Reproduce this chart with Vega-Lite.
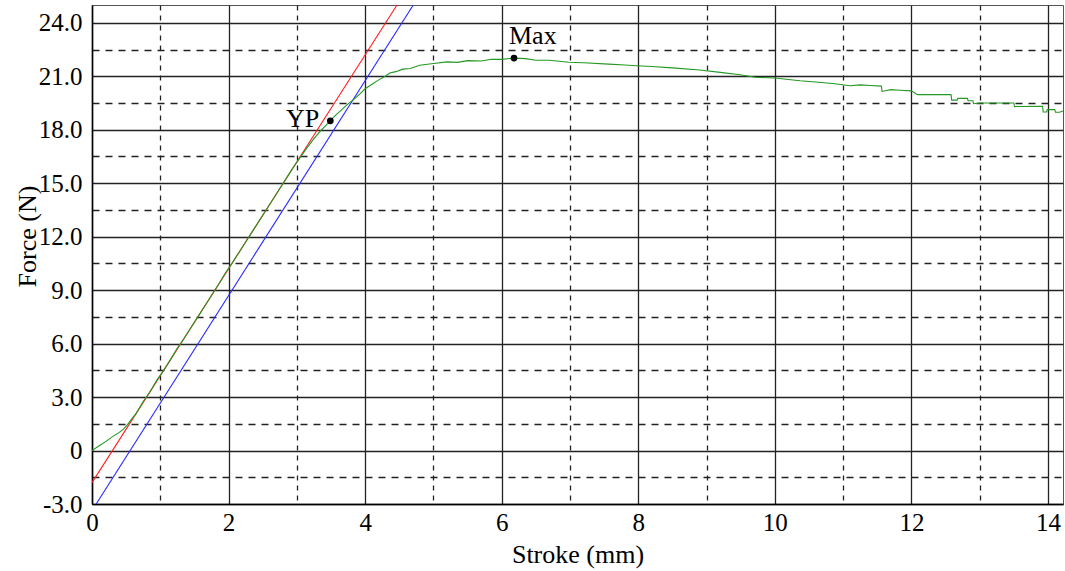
{
  "$schema": "https://vega.github.io/schema/vega-lite/v6.json",
  "width": 971,
  "height": 499,
  "autosize": {"type": "none"},
  "padding": {"left": 92, "top": 5, "right": 2, "bottom": 67},
  "background": "white",
  "config": {
    "view": {"stroke": "#555", "strokeWidth": 1},
    "font": "Liberation Serif"
  },
  "datasets": {
    "lines": [
      {"s": "red", "o": 0, "x": 0, "y": -1.8},
      {"s": "red", "o": 1, "x": 4.467, "y": 25},
      {"s": "blue", "o": 0, "x": 0.061, "y": -3},
      {"s": "blue", "o": 1, "x": 4.705, "y": 25},
      {"s": "green", "o": 0, "x": 0, "y": 0},
      {"s": "green", "o": 1, "x": 0.1, "y": 0.25},
      {"s": "green", "o": 2, "x": 0.2, "y": 0.5},
      {"s": "green", "o": 3, "x": 0.3, "y": 0.78},
      {"s": "green", "o": 4, "x": 0.4, "y": 1.02},
      {"s": "green", "o": 5, "x": 0.46, "y": 1.2},
      {"s": "green", "o": 6, "x": 0.52, "y": 1.45},
      {"s": "green", "o": 7, "x": 0.56, "y": 1.66},
      {"s": "green", "o": 8, "x": 0.65, "y": 2.1},
      {"s": "green", "o": 9, "x": 0.75, "y": 2.75},
      {"s": "green", "o": 10, "x": 0.85, "y": 3.3},
      {"s": "green", "o": 11, "x": 0.95, "y": 3.95},
      {"s": "green", "o": 12, "x": 1.05, "y": 4.5},
      {"s": "green", "o": 13, "x": 1.15, "y": 5.1},
      {"s": "green", "o": 14, "x": 1.25, "y": 5.75},
      {"s": "green", "o": 15, "x": 1.35, "y": 6.3},
      {"s": "green", "o": 16, "x": 1.45, "y": 6.9},
      {"s": "green", "o": 17, "x": 1.55, "y": 7.5},
      {"s": "green", "o": 18, "x": 1.65, "y": 8.1},
      {"s": "green", "o": 19, "x": 1.75, "y": 8.7},
      {"s": "green", "o": 20, "x": 1.85, "y": 9.3},
      {"s": "green", "o": 21, "x": 1.95, "y": 9.95},
      {"s": "green", "o": 22, "x": 2.05, "y": 10.5},
      {"s": "green", "o": 23, "x": 2.15, "y": 11.1},
      {"s": "green", "o": 24, "x": 2.25, "y": 11.7},
      {"s": "green", "o": 25, "x": 2.35, "y": 12.3},
      {"s": "green", "o": 26, "x": 2.45, "y": 12.9},
      {"s": "green", "o": 27, "x": 2.55, "y": 13.5},
      {"s": "green", "o": 28, "x": 2.65, "y": 14.1},
      {"s": "green", "o": 29, "x": 2.75, "y": 14.7},
      {"s": "green", "o": 30, "x": 2.85, "y": 15.3},
      {"s": "green", "o": 31, "x": 2.95, "y": 15.9},
      {"s": "green", "o": 32, "x": 3.05, "y": 16.45},
      {"s": "green", "o": 33, "x": 3.15, "y": 17.0},
      {"s": "green", "o": 34, "x": 3.25, "y": 17.5},
      {"s": "green", "o": 35, "x": 3.35, "y": 17.95},
      {"s": "green", "o": 36, "x": 3.45, "y": 18.35},
      {"s": "green", "o": 37, "x": 3.49, "y": 18.5},
      {"s": "green", "o": 38, "x": 3.55, "y": 18.75},
      {"s": "green", "o": 39, "x": 3.65, "y": 19.1},
      {"s": "green", "o": 40, "x": 3.75, "y": 19.45},
      {"s": "green", "o": 41, "x": 3.83, "y": 19.69},
      {"s": "green", "o": 42, "x": 3.92, "y": 20.0},
      {"s": "green", "o": 43, "x": 4.0, "y": 20.3},
      {"s": "green", "o": 44, "x": 4.1, "y": 20.55},
      {"s": "green", "o": 45, "x": 4.2, "y": 20.8},
      {"s": "green", "o": 46, "x": 4.3, "y": 21.02},
      {"s": "green", "o": 47, "x": 4.36, "y": 21.18},
      {"s": "green", "o": 48, "x": 4.45, "y": 21.26},
      {"s": "green", "o": 49, "x": 4.55, "y": 21.4},
      {"s": "green", "o": 50, "x": 4.66, "y": 21.44},
      {"s": "green", "o": 51, "x": 4.8, "y": 21.62},
      {"s": "green", "o": 52, "x": 5.0, "y": 21.72},
      {"s": "green", "o": 53, "x": 5.2, "y": 21.81},
      {"s": "green", "o": 54, "x": 5.35, "y": 21.78},
      {"s": "green", "o": 55, "x": 5.5, "y": 21.88},
      {"s": "green", "o": 56, "x": 5.7, "y": 21.86},
      {"s": "green", "o": 57, "x": 5.85, "y": 21.96},
      {"s": "green", "o": 58, "x": 6.0, "y": 21.95},
      {"s": "green", "o": 59, "x": 6.18, "y": 22.02},
      {"s": "green", "o": 60, "x": 6.35, "y": 21.99},
      {"s": "green", "o": 61, "x": 6.5, "y": 21.9},
      {"s": "green", "o": 62, "x": 6.7, "y": 21.9},
      {"s": "green", "o": 63, "x": 6.98, "y": 21.79},
      {"s": "green", "o": 64, "x": 7.2, "y": 21.76},
      {"s": "green", "o": 65, "x": 7.57, "y": 21.68},
      {"s": "green", "o": 66, "x": 7.8, "y": 21.63},
      {"s": "green", "o": 67, "x": 7.97, "y": 21.59},
      {"s": "green", "o": 68, "x": 8.2, "y": 21.55},
      {"s": "green", "o": 69, "x": 8.5, "y": 21.47},
      {"s": "green", "o": 70, "x": 8.9, "y": 21.35},
      {"s": "green", "o": 71, "x": 9.2, "y": 21.22},
      {"s": "green", "o": 72, "x": 9.49, "y": 21.09},
      {"s": "green", "o": 73, "x": 9.71, "y": 20.95},
      {"s": "green", "o": 74, "x": 10.0, "y": 20.9},
      {"s": "green", "o": 75, "x": 10.2, "y": 20.82},
      {"s": "green", "o": 76, "x": 10.37, "y": 20.75},
      {"s": "green", "o": 77, "x": 10.6, "y": 20.68},
      {"s": "green", "o": 78, "x": 10.88, "y": 20.58},
      {"s": "green", "o": 79, "x": 11.1, "y": 20.47},
      {"s": "green", "o": 80, "x": 11.25, "y": 20.52},
      {"s": "green", "o": 81, "x": 11.4, "y": 20.48},
      {"s": "green", "o": 82, "x": 11.56, "y": 20.45},
      {"s": "green", "o": 83, "x": 11.57, "y": 20.15},
      {"s": "green", "o": 84, "x": 11.7, "y": 20.25},
      {"s": "green", "o": 85, "x": 11.83, "y": 20.22},
      {"s": "green", "o": 86, "x": 12.0, "y": 20.18},
      {"s": "green", "o": 87, "x": 12.09, "y": 19.97},
      {"s": "green", "o": 88, "x": 12.58, "y": 19.97},
      {"s": "green", "o": 89, "x": 12.59, "y": 19.66},
      {"s": "green", "o": 90, "x": 12.67, "y": 19.66},
      {"s": "green", "o": 91, "x": 12.68, "y": 19.76},
      {"s": "green", "o": 92, "x": 12.82, "y": 19.76},
      {"s": "green", "o": 93, "x": 12.83, "y": 19.63},
      {"s": "green", "o": 94, "x": 12.9, "y": 19.63},
      {"s": "green", "o": 95, "x": 12.91, "y": 19.46},
      {"s": "green", "o": 96, "x": 13.0, "y": 19.5},
      {"s": "green", "o": 97, "x": 13.5, "y": 19.5},
      {"s": "green", "o": 98, "x": 13.51, "y": 19.3},
      {"s": "green", "o": 99, "x": 13.92, "y": 19.32},
      {"s": "green", "o": 100, "x": 13.93, "y": 19.0},
      {"s": "green", "o": 101, "x": 13.98, "y": 19.0},
      {"s": "green", "o": 102, "x": 13.99, "y": 19.13},
      {"s": "green", "o": 103, "x": 14.1, "y": 19.13},
      {"s": "green", "o": 104, "x": 14.11, "y": 18.98},
      {"s": "green", "o": 105, "x": 14.17, "y": 18.98},
      {"s": "green", "o": 106, "x": 14.22, "y": 19.05}
    ],
    "marks": [
      {"name": "YP", "x": 3.49, "y": 18.5},
      {"name": "Max", "x": 6.18, "y": 22.02}
    ]
  },
  "resolve": {"axis": {"y": "independent"}},
  "layer": [
    {
      "data": {"name": "lines"},
      "mark": {"type": "line", "strokeWidth": 1.1, "clip": true},
      "encoding": {
        "x": {
          "field": "x", "type": "quantitative",
          "scale": {"domain": [0, 14.22], "nice": false, "zero": false},
          "axis": {
            "values": [0,1,2,3,4,5,6,7,8,9,10,11,12,13,14],
            "labelExpr": "datum.value % 2 === 0 ? format(datum.value, 'd') : ''",
            "labelFont": "Liberation Serif", "labelFontSize": 25, "labelColor": "#000",
            "labelPadding": 6, "labelFlush": false, "labelOverlap": false,
            "tickSize": 0,
            "domainColor": "#000", "domainWidth": 1.5,
            "grid": true,
            "gridColor": "#222",
            "gridWidth": 1.3,
            "gridDash": {"condition": {"test": "datum.value % 2 === 1", "value": [5, 5]}, "value": []},
            "title": "Stroke (mm)",
            "titleFont": "Liberation Serif", "titleFontSize": 26, "titleFontWeight": "normal", "titleColor": "#000",
            "titleBaseline": "alphabetic", "titleY": 58
          }
        },
        "y": {
          "field": "y", "type": "quantitative",
          "scale": {"domain": [-3, 25], "nice": false, "zero": false},
          "axis": {
            "orient": "left",
            "values": [-3,0,3,6,9,12,15,18,21,24],
            "labelExpr": "datum.value === 0 ? '0' : (datum.value < 0 ? '-' + format(-datum.value, '.1f') : format(datum.value, '.1f'))",
            "labelFont": "Liberation Serif", "labelFontSize": 25, "labelColor": "#000",
            "labelPadding": 10, "labelFlush": false, "labelOverlap": false,
            "tickSize": 0,
            "domainColor": "#000", "domainWidth": 1.5,
            "grid": true,
            "gridColor": "#222",
            "gridWidth": 1.3,
            "title": "Force (N)",
            "titleFont": "Liberation Serif", "titleFontSize": 26, "titleFontWeight": "normal", "titleColor": "#000",
            "titleAngle": -90, "titleBaseline": "alphabetic", "titleX": -57, "titleY": 231, "titleAlign": "center"
          }
        },
        "color": {
          "field": "s", "type": "nominal",
          "scale": {"domain": ["red", "blue", "green"], "range": ["#ff2020", "#2a2aff", "#229922"]},
          "legend": null
        },
        "order": {"field": "o", "type": "quantitative"}
      }
    },
    {
      "data": {"name": "marks"},
      "mark": {"type": "point", "filled": true, "color": "#000", "size": 45, "opacity": 1},
      "encoding": {
        "x": {"field": "x", "type": "quantitative"},
        "y": {
          "field": "y", "type": "quantitative",
          "axis": {
            "orient": "left",
            "values": [-1.5,1.5,4.5,7.5,10.5,13.5,16.5,19.5,22.5],
            "labels": false, "ticks": false, "domain": false, "title": null,
            "grid": true, "gridColor": "#222", "gridWidth": 1.3, "gridDash": [7, 6]
          }
        }
      }
    },
    {
      "data": {"name": "marks"},
      "transform": [{"filter": "datum.name === 'YP'"}],
      "mark": {"type": "text", "font": "Liberation Serif", "fontSize": 26, "color": "#000", "align": "right", "baseline": "alphabetic", "dx": -11, "dy": 6},
      "encoding": {
        "x": {"field": "x", "type": "quantitative"},
        "y": {"field": "y", "type": "quantitative", "axis": null},
        "text": {"field": "name"}
      }
    },
    {
      "data": {"name": "marks"},
      "transform": [{"filter": "datum.name === 'Max'"}],
      "mark": {"type": "text", "font": "Liberation Serif", "fontSize": 26, "color": "#000", "align": "left", "baseline": "alphabetic", "dx": -5, "dy": -14},
      "encoding": {
        "x": {"field": "x", "type": "quantitative"},
        "y": {"field": "y", "type": "quantitative", "axis": null},
        "text": {"field": "name"}
      }
    }
  ]
}
